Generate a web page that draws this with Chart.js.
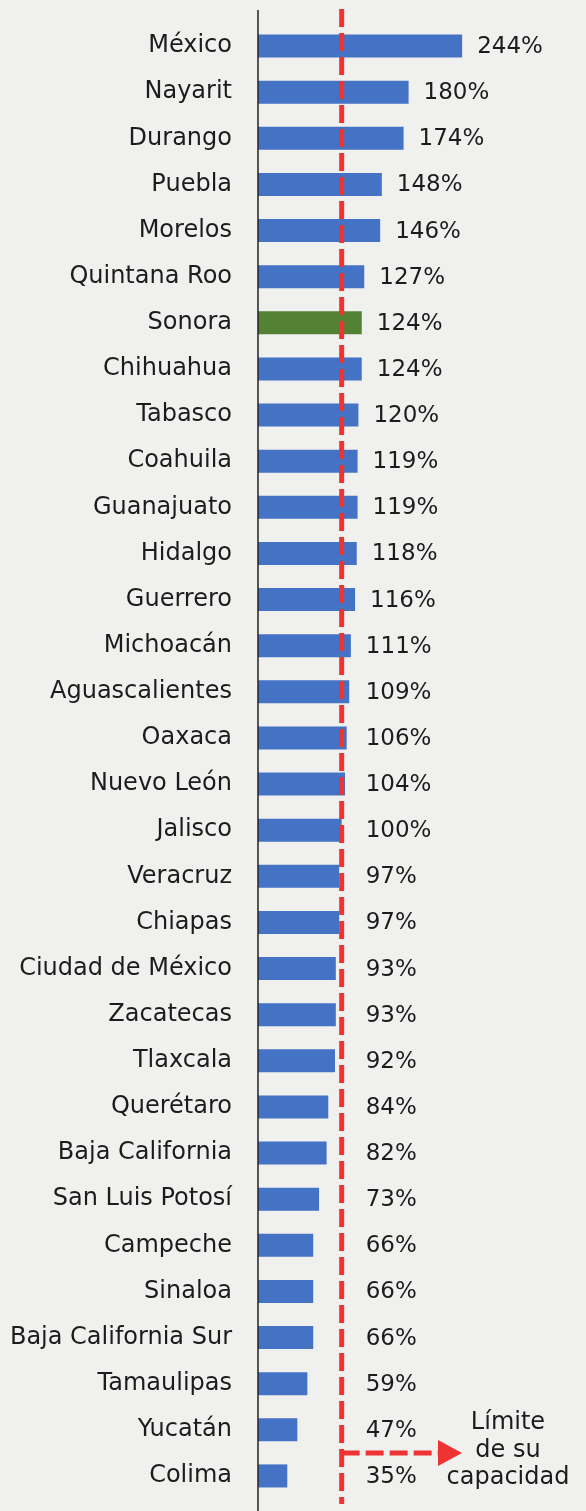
<!DOCTYPE html>
<html>
<head>
<meta charset="utf-8">
<script src="https://cdn.jsdelivr.net/npm/chart.js@4.4.1/dist/chart.umd.min.js"></script>
<style>
  html, body { margin: 0; padding: 0; background: #f0f0ef; }
  #wrap { width: 586px; height: 1511px; position: relative; }
</style>
</head>
<body>
<div id="wrap"><canvas id="capacidad"></canvas></div>
<script>
// states, ordered top to bottom
const estados = ['México', 'Nayarit', 'Durango', 'Puebla', 'Morelos', 'Quintana Roo', 'Sonora',
  'Chihuahua', 'Tabasco', 'Coahuila', 'Guanajuato', 'Hidalgo', 'Guerrero', 'Michoacán',
  'Aguascalientes', 'Oaxaca', 'Nuevo León', 'Jalisco', 'Veracruz', 'Chiapas', 'Ciudad de México',
  'Zacatecas', 'Tlaxcala', 'Querétaro', 'Baja California', 'San Luis Potosí', 'Campeche',
  'Sinaloa', 'Baja California Sur', 'Tamaulipas', 'Yucatán', 'Colima'];
// occupancy as % of capacity
const ocupacion = [244, 180, 174, 148, 146, 127, 124, 124, 120, 119, 119, 118, 116, 111,
  109, 106, 104, 100, 97, 97, 93, 93, 92, 84, 82, 73, 66, 66, 66, 59, 47, 35];
const limite = 100;
const resaltado = 'Sonora';

const FONT = '"DejaVu Sans", sans-serif';
const barColors = estados.map(e => e === resaltado ? '#548235' : '#4472c4');

// value labels + capacity line + arrow note
const extras = {
  id: 'extras',
  afterDatasetsDraw(chart) {
    const ctx = chart.ctx;
    const x = chart.scales.x;
    const meta = chart.getDatasetMeta(0);
    const x0 = x.getPixelForValue(0);
    const xl = x.getPixelForValue(limite);
    const H = chart.height;

    ctx.save();
    // axis line
    ctx.strokeStyle = '#222';
    ctx.lineWidth = 1.5;
    ctx.beginPath();
    ctx.moveTo(x0, 10);
    ctx.lineTo(x0, H);
    ctx.stroke();

    // value labels
    ctx.fillStyle = '#1c1c1c';
    ctx.font = '23px ' + FONT;
    ctx.textAlign = 'left';
    ctx.textBaseline = 'middle';
    meta.data.forEach((bar, i) => {
      const tx = Math.max(bar.x, xl + 9) + 15;
      ctx.fillText(ocupacion[i] + '%', tx, bar.y + 1);
    });

    // dashed capacity line
    ctx.strokeStyle = '#ee3333';
    ctx.lineWidth = 5;
    ctx.setLineDash([18, 6]);
    ctx.beginPath();
    ctx.moveTo(xl, 9);
    ctx.lineTo(xl, 1504);
    ctx.stroke();

    // arrow to the note
    const ay = 1453;
    ctx.beginPath();
    ctx.moveTo(xl, ay);
    ctx.lineTo(442, ay);
    ctx.stroke();
    ctx.setLineDash([]);
    ctx.fillStyle = '#ee3333';
    ctx.beginPath();
    ctx.moveTo(462, ay);
    ctx.lineTo(438, ay - 13);
    ctx.lineTo(438, ay + 13);
    ctx.closePath();
    ctx.fill();

    // note
    ctx.fillStyle = '#1c1c1c';
    ctx.font = '24px ' + FONT;
    ctx.textAlign = 'center';
    ['Límite', 'de su', 'capacidad'].forEach((t, i) => {
      ctx.fillText(t, 508, 1423 + i * 27.5);
    });
    ctx.restore();
  }
};

new Chart(document.getElementById('capacidad'), {
  type: 'bar',
  data: {
    labels: estados,
    datasets: [{
      data: ocupacion,
      backgroundColor: barColors,
      borderWidth: 0,
      barPercentage: 0.5,
      categoryPercentage: 1
    }]
  },
  options: {
    indexAxis: 'y',
    responsive: true,
    maintainAspectRatio: false,
    animation: false,
    layout: { padding: { top: 23, bottom: 12, left: 0, right: 77 } },
    plugins: {
      legend: { display: false },
      tooltip: { enabled: false }
    },
    scales: {
      x: { display: false, min: 0, max: 300 },
      y: {
        afterFit(scale) {
          scale.width = 258;
          scale.paddingTop = 0;
          scale.paddingBottom = 0;
        },
        grid: { display: false, drawTicks: false },
        border: { display: false },
        ticks: {
          padding: 26,
          color: '#1c1c1c',
          font: { family: FONT, size: 24 }
        }
      }
    }
  },
  plugins: [extras]
});
</script>
</body>
</html>
